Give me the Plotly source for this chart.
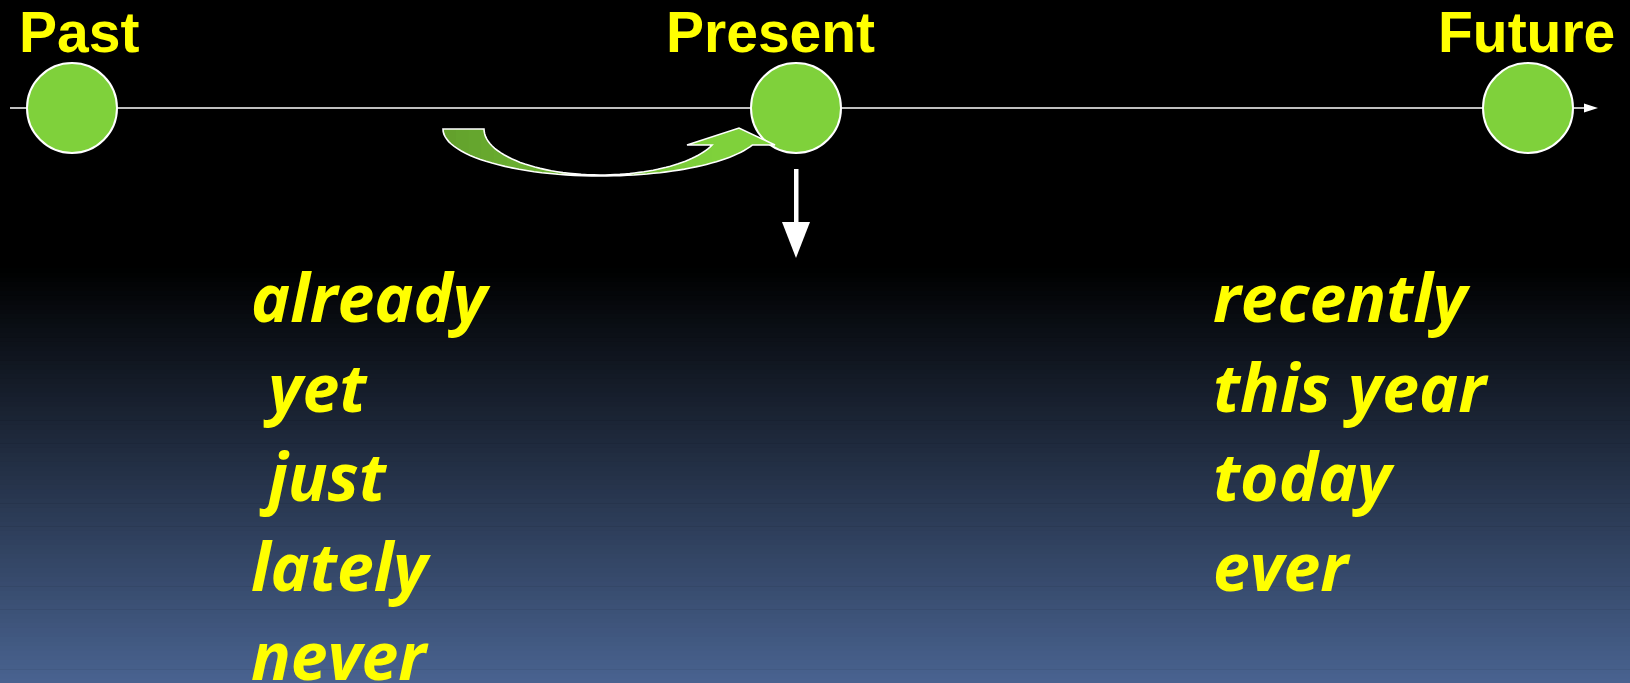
import numpy as np
import plotly.graph_objects as go

# ---------------- data ----------------
timeline_labels = ["Past", "Present", "Future"]
timeline_x = [72, 796, 1528]          # positions of the three moments on the time axis
left_words = ["already", "\u00a0yet", "\u00a0just", "lately", "never"]
right_words = ["recently", "this year", "today", "ever"]

# ---------------- layout constants ----------------
W, H = 1630, 683
LINE_Y = 108
YELLOW = "#FFFF00"
GREEN = "#7FD13B"

fig = go.Figure()
shapes = []

# background gradient (black -> slate blue)
top_col = np.array([0, 0, 0])
bot_col = np.array([73, 99, 144])
g0, g1 = 268, H
n = 90
edges = np.linspace(g0, g1, n + 1)
shapes.append(dict(type="rect", xref="x", yref="y", x0=0, x1=W, y0=0, y1=g0,
                   fillcolor="black", line=dict(width=0), layer="below"))
for i in range(n):
    f = (i + 0.5) / n
    c = (top_col + (bot_col - top_col) * f).round().astype(int)
    shapes.append(dict(type="rect", xref="x", yref="y", x0=0, x1=W,
                       y0=edges[i], y1=edges[i + 1] + 0.6,
                       fillcolor=f"rgb({c[0]},{c[1]},{c[2]})",
                       line=dict(width=0), layer="below"))

# timeline line + arrowhead
shapes.append(dict(type="line", xref="x", yref="y", x0=10, x1=1588, y0=LINE_Y, y1=LINE_Y,
                   line=dict(color="white", width=1.6), layer="below"))
shapes.append(dict(type="path", xref="x", yref="y",
                   path=f"M1584,{LINE_Y-4.5} L1598,{LINE_Y} L1584,{LINE_Y+4.5} Z",
                   fillcolor="white", line=dict(width=0), layer="below"))

# circles on the time line
fig.add_trace(go.Scatter(x=timeline_x, y=[LINE_Y] * 3, mode="markers",
                         marker=dict(size=90, color=GREEN, line=dict(color="white", width=2)),
                         hoverinfo="skip", showlegend=False))

# curved arrow (from past towards present)
cx, cy = 600, 129
ry_o, rxl_o, rxr_o = 47, 157, 162
ry_i, rxl_i, rxr_i = 46, 116, 119.5


def y_bot(x):
    rx = rxl_o if x < cx else rxr_o
    v = 1 - ((x - cx) / rx) ** 2
    return cy + ry_o * np.sqrt(max(v, 0))


def y_top(x):
    if x < cx - rxl_i:
        return cy
    rx = rxl_i if x < cx else rxr_i
    v = 1 - ((x - cx) / rx) ** 2
    return cy + ry_i * np.sqrt(max(v, 0))


def fmt(pts):
    return "M" + " L".join(f"{px:.1f},{py:.1f}" for px, py in pts) + " Z"


inner_pts = []
for t in np.linspace(0, np.pi / 2, 30):
    inner_pts.append((cx - rxl_i * np.cos(t), cy + ry_i * np.sin(t)))
t_end = np.arcsin(16 / ry_i)
for t in np.linspace(np.pi / 2, t_end, 30)[1:]:
    inner_pts.append((cx + rxr_i * np.cos(t), cy + ry_i * np.sin(t)))
outer_pts = []
t_end_o = np.arcsin(16 / ry_o)
for t in np.linspace(t_end_o, np.pi / 2, 30):
    outer_pts.append((cx + rxr_o * np.cos(t), cy + ry_o * np.sin(t)))
for t in np.linspace(np.pi / 2, 0, 30)[1:]:
    outer_pts.append((cx - rxl_o * np.cos(t), cy + ry_o * np.sin(t)))
head = [(687, 145), (739, 128), (775, 145)]
arrow_pts = [(443, 129)] + inner_pts + head + outer_pts
arrow_path = fmt(arrow_pts)

shapes.append(dict(type="path", xref="x", yref="y", path=arrow_path,
                   fillcolor=GREEN, line=dict(width=0), layer="above"))
c_dark = np.array([98, 160, 44])
c_light = np.array([127, 209, 59])
xs = np.linspace(443, 712, 22)
for i in range(len(xs) - 1):
    a, b = xs[i], min(xs[i + 1] + 0.5, 712)
    sx = np.linspace(a, b, 6)
    top = [(x, y_top(x)) for x in sx]
    bot = [(x, y_bot(x)) for x in sx[::-1]]
    f = (i + 0.5) / (len(xs) - 1)
    c = (c_dark + (c_light - c_dark) * f).round().astype(int)
    shapes.append(dict(type="path", xref="x", yref="y", path=fmt(top + bot),
                       fillcolor=f"rgb({c[0]},{c[1]},{c[2]})", line=dict(width=0), layer="above"))
shapes.append(dict(type="path", xref="x", yref="y", path=arrow_path,
                   fillcolor="rgba(0,0,0,0)", line=dict(color="white", width=1.6), layer="above"))

# downward arrow under "Present"
shapes.append(dict(type="rect", xref="x", yref="y", x0=794, x1=798.5, y0=169, y1=224,
                   fillcolor="white", line=dict(width=0), layer="above"))
shapes.append(dict(type="path", xref="x", yref="y", path="M782,222 L810,222 L796,258 Z",
                   fillcolor="white", line=dict(width=0), layer="above"))

# ---------------- text ----------------
annotations = []
title_font = dict(family="Liberation Sans", size=57, color=YELLOW, weight="bold")
title_pos = [(17, "left"), (770, "center"), (1617, "right")]
for lab, (tx, anc) in zip(timeline_labels, title_pos):
    annotations.append(dict(x=tx, y=32, xref="x", yref="y", text=lab, showarrow=False,
                            xanchor=anc, yanchor="middle", font=title_font))

word_font = dict(family="Open Sans", size=66, color=YELLOW, weight="bold", style="italic")
row0, row_step = 296, 89.5
for i, w in enumerate(left_words):
    annotations.append(dict(x=249, y=row0 + i * row_step, xref="x", yref="y", text=w,
                            showarrow=False, xanchor="left", yanchor="middle", font=word_font))
for i, w in enumerate(right_words):
    annotations.append(dict(x=1211, y=row0 + i * row_step, xref="x", yref="y", text=w,
                            showarrow=False, xanchor="left", yanchor="middle", font=word_font))

fig.update_layout(
    width=W, height=H,
    margin=dict(l=0, r=0, t=0, b=0),
    paper_bgcolor="black", plot_bgcolor="black",
    xaxis=dict(range=[0, W], visible=False, fixedrange=True),
    yaxis=dict(range=[H, 0], visible=False, fixedrange=True),
    shapes=shapes, annotations=annotations, showlegend=False,
)
fig.write_html(
    "out.html",
    config={"displayModeBar": False},
    post_script="document.body.style.margin='0';document.body.style.overflow='hidden';"
                "document.body.style.background='black';",
)
